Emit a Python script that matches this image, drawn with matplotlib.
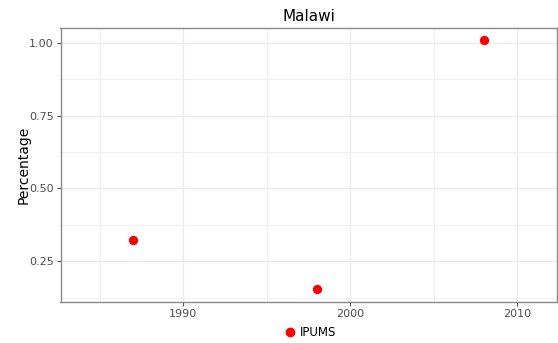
import matplotlib
matplotlib.use("Agg")
import matplotlib.pyplot as plt
from matplotlib.lines import Line2D

years = [1987, 1998, 2008]
values = [0.323, 0.154, 1.010]
series_label = "IPUMS"
title = "Malawi"
x_ticks = [1990, 2000, 2010]
y_ticks = [0.25, 0.50, 0.75, 1.00]
y_ticklabels = ["0.25", "0.50", "0.75", "1.00"]

fig = plt.figure(figsize=(5.58, 3.43), dpi=100)
ax = fig.add_axes([60.5/558, 1 - 302/343, (557 - 60.5)/558, (302 - 27.5)/343])

ax.set_xlim(1982.63, 2012.4)
ax.set_ylim(0.110, 1.053)

ax.set_xticks(x_ticks)
ax.set_xticks([1985, 1995, 2005], minor=True)
ax.set_yticks(y_ticks)
ax.set_yticklabels(y_ticklabels)
ax.set_yticks([0.125, 0.375, 0.625, 0.875], minor=True)

ax.grid(True, which="major", color="#EBEBEB", linewidth=0.9)
ax.grid(True, which="minor", color="#EFEFEF", linewidth=0.7)
ax.set_axisbelow(True)

for s in ax.spines.values():
    s.set_color("#8A8A8A")
    s.set_linewidth(1.0)

ax.tick_params(which="major", length=3, width=0.8, color="#555555",
               labelsize=8, labelcolor="#4D4D4D", pad=2)
ax.tick_params(which="minor", length=0)

ax.scatter(years, values, s=45, color="red", zorder=3, linewidths=0)

ax.set_ylabel("Percentage", fontsize=10, color="black")
ax.yaxis.set_label_coords(-(60.5 - 31) / (557 - 60.5), 0.5)
ax.set_title(title, fontsize=11, color="black", pad=5)

handle = Line2D([], [], marker="o", linestyle="", color="red", markersize=6)
fig.legend([handle], [series_label], loc="center", bbox_to_anchor=(311/558, 1 - 333/343),
           frameon=False, fontsize=8.5, handletextpad=0.4, borderaxespad=0, handlelength=0.8)

fig.savefig("out.png", dpi=100)
